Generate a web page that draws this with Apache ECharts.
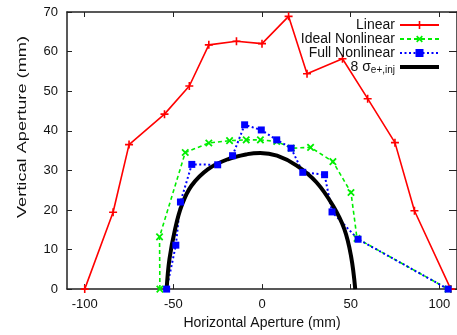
<!DOCTYPE html>
<html>
<head>
<meta charset="utf-8">
<script src="https://cdn.jsdelivr.net/npm/echarts@6/dist/echarts.min.js"></script>
<style>
html,body{margin:0;padding:0;background:#fff;overflow:hidden;}
#main{width:457px;height:335px;}
</style>
</head>
<body>
<div id="main"></div>
<script>
// tick labels
var xTicks = [-100, -50, 0, 50, 100];
// Linear
var linearPts = [[-100,0],[-84,19.4],[-75,36.5],[-55,44.2],[-41,51.3],[-30,61.7],[-14.4,62.6],[0,62],[15,68.9],[25.4,54.4],[45.4,58.2],[59.6,48.1],[75,37],[86,19.8],[106.5,0]];
// Ideal Nonlinear
var idealPts = [[-57.6,0],[-57.8,13.2],[-43.3,34.5],[-30,36.9],[-18.3,37.5],[-8.9,37.7],[-0.9,37.7],[8.3,37.3],[16.5,35.6],[27.4,35.8],[40,32.2],[50.2,24.4],[53.6,12.8],[105,0]];
// Full Nonlinear
var fullPts = [[-53.8,0],[-48.6,11.1],[-46,22],[-39.6,31.5],[-25,31.4],[-16.6,33.7],[-9.8,41.5],[-0.4,40.2],[8.3,37.7],[16.4,35.6],[23,29.5],[35.3,28.9],[39.5,19.5],[54.2,12.6],[105,0]];
// 8 sigma envelope
var sigmaPts = [[-53.8,0],[-52.2,7.6],[-49,15.2],[-45.3,21.1],[-39.8,26.1],[-30.4,30.3],[-19.3,32.8],[-8.2,34.1],[-1,34.4],[8.5,33.7],[19.6,31.2],[30.7,27],[40,21.1],[46.4,15.2],[50.2,8.4],[52.6,0]];

var plusPath = 'path://M4,0H6V4H10V6H6V10H4V6H0V4H4Z';
// thick bar for the legend, with tiny corners so it spans the whole icon box
var barPath = 'path://M0,0L0.01,0L0,0.01Z M0,3H39V7H0Z M39,10L38.99,10L39,9.99Z';
var font = '"Liberation Sans", Arial, sans-serif';
var axisCol = '#222';

var myChart = echarts.init(document.getElementById('main'));

function xAx(pos){
    return {
        type: 'value', position: pos, min: -110, max: 110,
        splitLine: {show: false},
        axisLine: {show: true, onZero: false, lineStyle: {color: axisCol, width: 1.5}},
        axisTick: {show: true, inside: true, length: 5, customValues: xTicks, lineStyle: {color: axisCol}},
        axisLabel: {show: pos == 'bottom', customValues: xTicks, margin: 9, color: '#111', fontSize: 13, fontFamily: font}
    };
}
function yAx(pos){
    return {
        type: 'value', position: pos, min: 0, max: 70, interval: 10,
        splitLine: {show: false},
        axisLine: {show: true, onZero: false, lineStyle: {color: axisCol, width: 1.5}},
        axisTick: {show: true, inside: true, length: pos == 'left' ? 5 : 8, lineStyle: {color: axisCol}},
        axisLabel: {show: pos == 'left', margin: 9, color: '#111', fontSize: 13, fontFamily: font}
    };
}

var bottomX = xAx('bottom');
bottomX.name = 'Horizontal Aperture (mm)';
bottomX.nameLocation = 'middle';
bottomX.nameGap = 26;
bottomX.nameTextStyle = {fontSize: 14, color: '#111', fontFamily: font};

var option = {
    animation: false,
    grid: {left: 67, right: -5, top: 12, bottom: 45},
    xAxis: [bottomX, xAx('top')],
    yAxis: [yAx('left'), yAx('right')],
    graphic: [{
        type: 'text', x: 22, y: 127, rotation: Math.PI / 2, scaleX: 1.4,
        style: {text: 'Vertical Aperture (mm)', fontSize: 13, fill: '#111', fontFamily: font, align: 'center', verticalAlign: 'middle'}
    }],
    legend: {
        orient: 'vertical', right: 12, top: 13, align: 'right',
        itemWidth: 39, itemHeight: 10, itemGap: 0,
        textStyle: {fontSize: 14, color: '#111', fontFamily: font, lineHeight: 14,
            rich: {
                a: {fontSize: 14, fontFamily: font, color: '#111'},
                s: {fontSize: 10, fontFamily: font, color: '#111', padding: [7, 0, 0, 0]}
            }
        },
        formatter: function(name){
            if (name == 'sigma') return '{a|8 σ}{s|e+,inj}';
            return name;
        },
        data: ['Linear', 'Ideal Nonlinear', 'Full Nonlinear', {name: 'sigma', icon: barPath}]
    },
    series: [
        {
            name: 'Linear', type: 'line', data: linearPts, clip: false,
            symbol: plusPath, symbolSize: 8,
            lineStyle: {color: '#ff0000', width: 1.6},
            itemStyle: {color: '#ff0000'}
        },
        {
            name: 'Ideal Nonlinear', type: 'line', data: idealPts, clip: false,
            symbol: plusPath, symbolSize: 9, symbolRotate: 45,
            lineStyle: {color: '#00ee00', width: 1.6, type: [4, 3]},
            itemStyle: {color: '#00ee00'}
        },
        {
            name: 'Full Nonlinear', type: 'line', data: fullPts, clip: false,
            symbol: 'rect', symbolSize: 7,
            lineStyle: {color: '#0000ff', width: 2, type: [2, 2.5]},
            itemStyle: {color: '#0000ff'}
        },
        {
            name: 'sigma', type: 'line', data: sigmaPts, clip: false,
            symbol: 'none', smooth: 0.4,
            lineStyle: {color: '#000', width: 4},
            itemStyle: {color: '#000'}
        }
    ]
};
myChart.setOption(option);
</script>
</body>
</html>
